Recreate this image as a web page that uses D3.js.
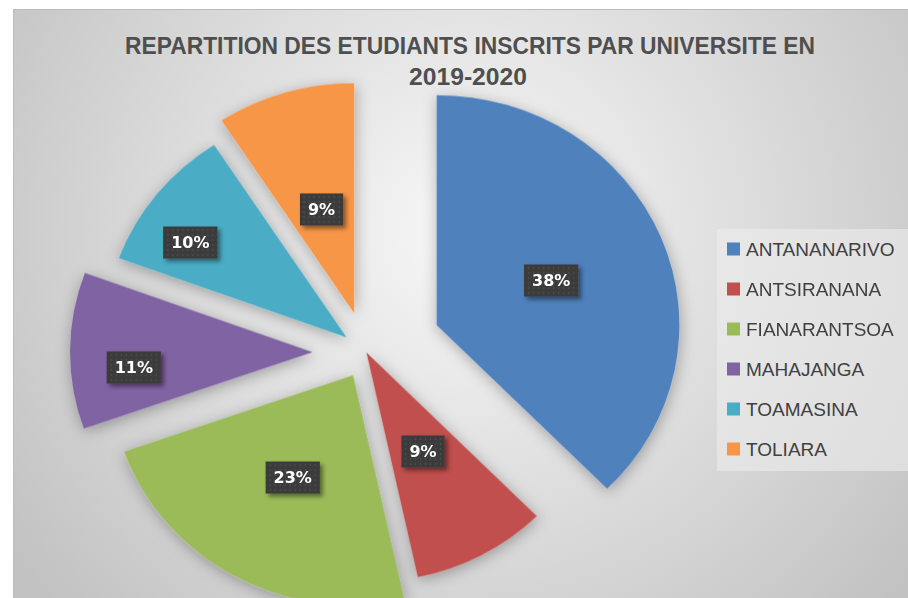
<!DOCTYPE html>
<html lang="fr">
<head>
<meta charset="UTF-8">
<title>Repartition des etudiants</title>
<script src="https://d3js.org/d3.v7.min.js"></script>
<style>
  body { margin: 0; background: #fff; }
  .legend-label { font-family: "Liberation Sans", Arial, sans-serif; font-size: 19px; fill: #404040; }
  .title { font-family: "Liberation Sans", Arial, sans-serif; font-weight: bold; font-size: 23px; fill: #4f4f4f; }
  .pct { font-family: "DejaVu Sans", sans-serif; font-weight: bold; font-size: 16px; fill: #fff; }
</style>
</head>
<body>
<script>
const universities = ["ANTANANARIVO", "ANTSIRANANA", "FIANARANTSOA", "MAHAJANGA", "TOAMASINA", "TOLIARA"];
const shares = [37.6, 9.0, 23.0, 11.0, 10.2, 9.2];
const colors = ["#4F81BD", "#C0504D", "#9BBB59", "#8064A2", "#4BACC6", "#F79646"];
// slice explosion (px) and label placement (fraction of radius / of slice angle), as set on the original chart
const explode = [72, 0, 26, 51, 24, 41];
const labelRadius = [0.51, 0.49, 0.51, 0.74, 0.765, 0.47];
const labelAngle = [0.5, 0.5, 0.5, 0.36, 0.34, 0.5];

const width = 908, height = 598;
const cx = 366.4, cy = 352.4, radius = 230, sx = 1.055;

const svg = d3.select("body").append("svg")
    .attr("width", width)
    .attr("height", height);

const defs = svg.append("defs");
const bg = defs.append("radialGradient").attr("id", "bg")
    .attr("gradientUnits", "userSpaceOnUse")
    .attr("cx", 470).attr("cy", 230).attr("r", 560);
bg.append("stop").attr("offset", "0%").attr("stop-color", "#f8f8f8");
bg.append("stop").attr("offset", "100%").attr("stop-color", "#c2c2c2");

const dots = defs.append("pattern").attr("id", "dots")
    .attr("width", 5).attr("height", 5).attr("patternUnits", "userSpaceOnUse");
dots.append("rect").attr("width", 5).attr("height", 5).attr("fill", "#3b3b3b");
dots.append("circle").attr("cx", 2.5).attr("cy", 2.5).attr("r", 0.8).attr("fill", "#575757");

defs.append("filter").attr("id", "sliceShadow")
    .attr("x", "-20%").attr("y", "-20%").attr("width", "140%").attr("height", "140%")
  .append("feDropShadow")
    .attr("dx", 1).attr("dy", 3).attr("stdDeviation", 7)
    .attr("flood-color", "#000").attr("flood-opacity", 0.3);

defs.append("filter").attr("id", "boxShadow")
    .attr("x", "-30%").attr("y", "-30%").attr("width", "160%").attr("height", "160%")
  .append("feDropShadow")
    .attr("dx", 3).attr("dy", 3).attr("stdDeviation", 2)
    .attr("flood-color", "#000").attr("flood-opacity", 0.45);

// chart area
svg.append("rect")
    .attr("x", 13.5).attr("y", 9.5)
    .attr("width", width).attr("height", height)
    .attr("fill", "url(#bg)")
    .attr("stroke", "#bcbcbc");

// title
const title = svg.append("g");
title.append("text").attr("class", "title")
    .attr("x", 470).attr("y", 54)
    .attr("text-anchor", "middle")
    .attr("textLength", 690).attr("lengthAdjust", "spacingAndGlyphs")
    .text("REPARTITION DES ETUDIANTS INSCRITS PAR UNIVERSITE EN");
title.append("text").attr("class", "title")
    .attr("x", 468).attr("y", 85)
    .attr("text-anchor", "middle")
    .attr("textLength", 118).attr("lengthAdjust", "spacingAndGlyphs")
    .text("2019-2020");

const data = universities.map((name, i) => ({ name, value: shares[i], color: colors[i], i }));
const total = d3.sum(shares);

const pie = d3.pie().value(d => d.value).sort(null);
const arcs = pie(data);
const arc = d3.arc().innerRadius(0).outerRadius(radius);

const mid = a => (a.startAngle + a.endAngle) / 2;

const pieG = svg.append("g")
    .attr("transform", `translate(${cx},${cy}) scale(${sx},1)`)
    .attr("filter", "url(#sliceShadow)");

pieG.selectAll("path")
    .data(arcs)
    .join("path")
    .attr("transform", d => {
        const m = mid(d), e = explode[d.data.i];
        return `translate(${e * Math.sin(m)},${-e * Math.cos(m)})`;
    })
    .attr("d", arc)
    .attr("fill", d => d.data.color);

// data labels
const labels = svg.append("g")
    .selectAll("g")
    .data(arcs)
    .join("g")
    .attr("transform", d => {
        const i = d.data.i, m = mid(d), e = explode[i], r = labelRadius[i] * radius;
        const a = d.startAngle + labelAngle[i] * (d.endAngle - d.startAngle);
        const x = cx + sx * (e * Math.sin(m) + r * Math.sin(a));
        const y = cy - (e * Math.cos(m) + r * Math.cos(a));
        return `translate(${x},${y})`;
    });

labels.append("text")
    .attr("class", "pct")
    .attr("text-anchor", "middle")
    .attr("dy", "0.36em")
    .text(d => Math.round(d.data.value / total * 100) + "%");

labels.each(function() {
    const g = d3.select(this);
    const bb = g.select("text").node().getBBox();
    g.insert("rect", "text")
        .attr("x", -bb.width / 2 - 8)
        .attr("y", -16)
        .attr("width", bb.width + 16)
        .attr("height", 32)
        .attr("fill", "url(#dots)")
        .attr("filter", "url(#boxShadow)");
});

// legend
const legendY = d3.scalePoint()
    .domain(universities)
    .range([249, 449]);

const legend = svg.append("g");
legend.append("rect")
    .attr("x", 717).attr("y", 229)
    .attr("width", 191).attr("height", 242)
    .attr("fill", "#ececec").attr("opacity", 0.6);

const item = legend.selectAll("g.item")
    .data(data)
    .join("g")
    .attr("class", "item")
    .attr("transform", d => `translate(727,${legendY(d.name)})`);

item.append("rect")
    .attr("x", 0).attr("y", -6.5)
    .attr("width", 13).attr("height", 13)
    .attr("fill", d => d.color);

item.append("text")
    .attr("class", "legend-label")
    .attr("x", 19)
    .attr("dy", "0.36em")
    .text(d => d.name);
</script>
</body>
</html>
